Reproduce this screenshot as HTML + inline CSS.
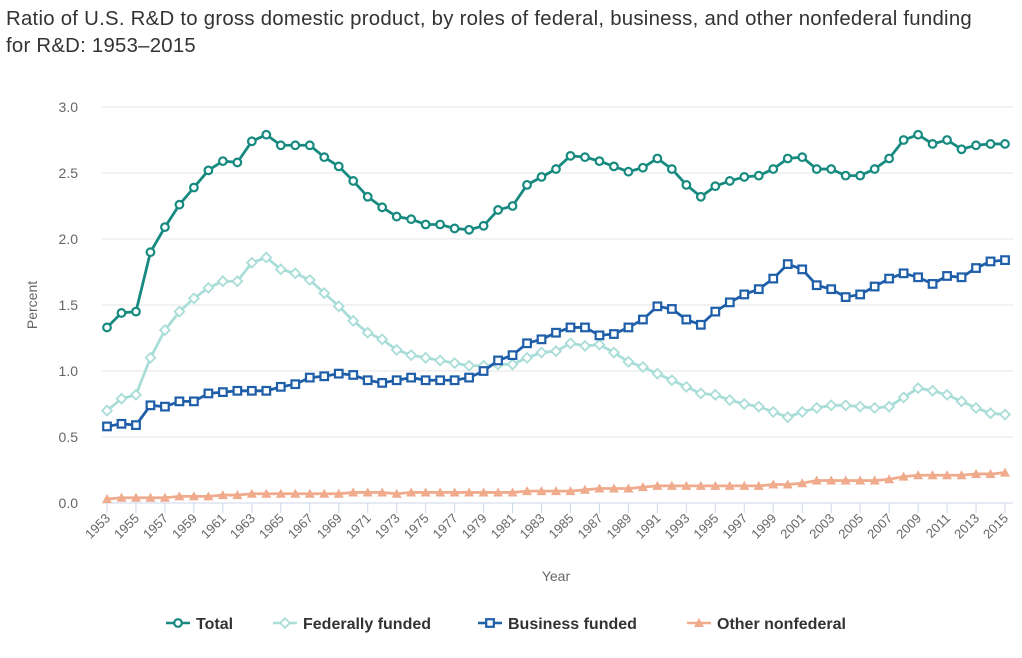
<!DOCTYPE html>
<html><head><meta charset="utf-8">
<style>
body{margin:0;background:#fff;width:1022px;height:653px;overflow:hidden;font-family:"Liberation Sans",sans-serif;}
</style></head><body>
<svg width="1022" height="653" id="svg" font-family="Liberation Sans, sans-serif">
<text x="6" y="25" font-size="20" letter-spacing="0.25" fill="#333" textLength="966" lengthAdjust="spacingAndGlyphs">Ratio of U.S. R&amp;D to gross domestic product, by roles of federal, business, and other nonfederal funding</text>
<text x="6" y="52" font-size="20" letter-spacing="0.25" fill="#333" textLength="190" lengthAdjust="spacingAndGlyphs">for R&amp;D: 1953–2015</text>
<text transform="translate(37,305) rotate(-90)" text-anchor="middle" font-size="14" fill="#666">Percent</text>
<text x="556" y="581" text-anchor="middle" font-size="14" fill="#666">Year</text>
<g id="grid"></g><g id="xaxis"></g><g id="series"></g><g id="legend"></g>
</svg>
<script>
const years=[];for(let y=1953;y<=2015;y++)years.push(y);
const yTicks=[0,0.5,1.0,1.5,2.0,2.5,3.0];
const total=[1.33,1.44,1.45,1.90,2.09,2.26,2.39,2.52,2.59,2.58,2.74,2.79,2.71,2.71,2.71,2.62,2.55,2.44,2.32,2.24,2.17,2.15,2.11,2.11,2.08,2.07,2.10,2.22,2.25,2.41,2.47,2.53,2.63,2.62,2.59,2.55,2.51,2.54,2.61,2.53,2.41,2.32,2.40,2.44,2.47,2.48,2.53,2.61,2.62,2.53,2.53,2.48,2.48,2.53,2.61,2.75,2.79,2.72,2.75,2.68,2.71,2.72,2.72];
const federal=[0.70,0.79,0.82,1.10,1.31,1.45,1.55,1.63,1.68,1.68,1.82,1.86,1.77,1.74,1.69,1.59,1.49,1.38,1.29,1.24,1.16,1.12,1.10,1.08,1.06,1.04,1.04,1.05,1.05,1.10,1.14,1.15,1.21,1.19,1.20,1.14,1.07,1.03,0.98,0.93,0.88,0.83,0.82,0.78,0.75,0.73,0.69,0.65,0.69,0.72,0.74,0.74,0.73,0.72,0.73,0.80,0.87,0.85,0.82,0.77,0.72,0.68,0.67];
const business=[0.58,0.60,0.59,0.74,0.73,0.77,0.77,0.83,0.84,0.85,0.85,0.85,0.88,0.90,0.95,0.96,0.98,0.97,0.93,0.91,0.93,0.95,0.93,0.93,0.93,0.95,1.00,1.08,1.12,1.21,1.24,1.29,1.33,1.33,1.27,1.28,1.33,1.39,1.49,1.47,1.39,1.35,1.45,1.52,1.58,1.62,1.70,1.81,1.77,1.65,1.62,1.56,1.58,1.64,1.70,1.74,1.71,1.66,1.72,1.71,1.78,1.83,1.84];
const other=[0.03,0.04,0.04,0.04,0.04,0.05,0.05,0.05,0.06,0.06,0.07,0.07,0.07,0.07,0.07,0.07,0.07,0.08,0.08,0.08,0.07,0.08,0.08,0.08,0.08,0.08,0.08,0.08,0.08,0.09,0.09,0.09,0.09,0.10,0.11,0.11,0.11,0.12,0.13,0.13,0.13,0.13,0.13,0.13,0.13,0.13,0.14,0.14,0.15,0.17,0.17,0.17,0.17,0.17,0.18,0.20,0.21,0.21,0.21,0.21,0.22,0.22,0.23];
const NS="http://www.w3.org/2000/svg";
const X0=107,X1=1005,Y0=503,Y1=107;
const xs=y=>X0+(y-1953)*(X1-X0)/62;
const ys=v=>Y0-(v/3)*(Y0-Y1);
function mk(t,a,p){const e=document.createElementNS(NS,t);for(const k in a)e.setAttribute(k,a[k]);p.appendChild(e);return e;}
const grid=document.getElementById('grid');
yTicks.forEach(v=>{
  const l=mk('line',{x1:X0-5,x2:X1+8,y1:ys(v),y2:ys(v),stroke:v===0?'#ccd6eb':'#e6e6e6','stroke-width':1},grid);
  
  
  const t=mk('text',{x:78,y:ys(v)+5,'text-anchor':'end','font-size':14,fill:'#666'},grid);
  t.textContent=v.toFixed(1);
  
  
});
const xa=document.getElementById('xaxis');
years.forEach(y=>{
  if((y-1953)%2)return;
  const x=xs(y);
  const tk=mk('line',{x1:x,x2:x,y1:Y0,y2:Y0+10,stroke:'#ccd6eb'},xa);
  
  
  const t=mk('text',{x:x+4,y:Y0+16,'text-anchor':'end','font-size':13,fill:'#666',transform:`rotate(-45 ${x+4} ${Y0+16})`},xa);
  t.textContent=y;
  
  
});
const S=document.getElementById('series');
function marker(g,shape,x,y,c){
  let e;
  if(shape==='circle')e=mk('circle',{cx:x,cy:y,r:3.8,fill:'#fff',stroke:c,'stroke-width':2.2},g);
  else if(shape==='square')e=mk('rect',{x:x-3.8,y:y-3.8,width:7.6,height:7.6,fill:'#fff',stroke:c,'stroke-width':2.2},g);
  else if(shape==='diamond')e=mk('path',{d:`M${x} ${y-4.8}L${x+4.8} ${y}L${x} ${y+4.8}L${x-4.8} ${y}Z`,fill:'#fff',stroke:c,'stroke-width':1.8},g);
  else e=mk('path',{d:`M${x} ${y-5}L${x+5} ${y+4}L${x-5} ${y+4}Z`,fill:c},g);
  return e;
}
function series(vals,c,shape,name){
  const g=mk('g',{},S);
  
  
  const p=mk('path',{d:vals.map((v,i)=>(i?'L':'M')+xs(years[i])+' '+ys(v)).join(''),fill:'none',stroke:c,'stroke-width':2.8},g);
  
  
  vals.forEach((v,i)=>{
    const m=marker(g,shape,xs(years[i]),ys(v),c);
    
    
  });
}
series(other,'#f0aa8c','triangle','other-nonfederal');
series(federal,'#a9ddd8','diamond','federally-funded');
series(business,'#1f5ea8','square','business-funded');
series(total,'#178a80','circle','total');
const L=document.getElementById('legend');
const items=[['Total','#178a80','circle',166],['Federally funded','#a9ddd8','diamond',273],['Business funded','#1f5ea8','square',478],['Other nonfederal','#f0aa8c','triangle',687]];
items.forEach(([lab,c,sh,x])=>{
  const g=mk('g',{},L);
  
  
  mk('line',{x1:x,x2:x+24,y1:623,y2:623,stroke:c,'stroke-width':2.5},g);
  marker(g,sh,x+12,623,c);
  const t=mk('text',{x:x+30,y:629,'font-size':16,'font-weight':'bold',fill:'#333'},g);
  t.textContent=lab;
});
</script>
</body></html>
